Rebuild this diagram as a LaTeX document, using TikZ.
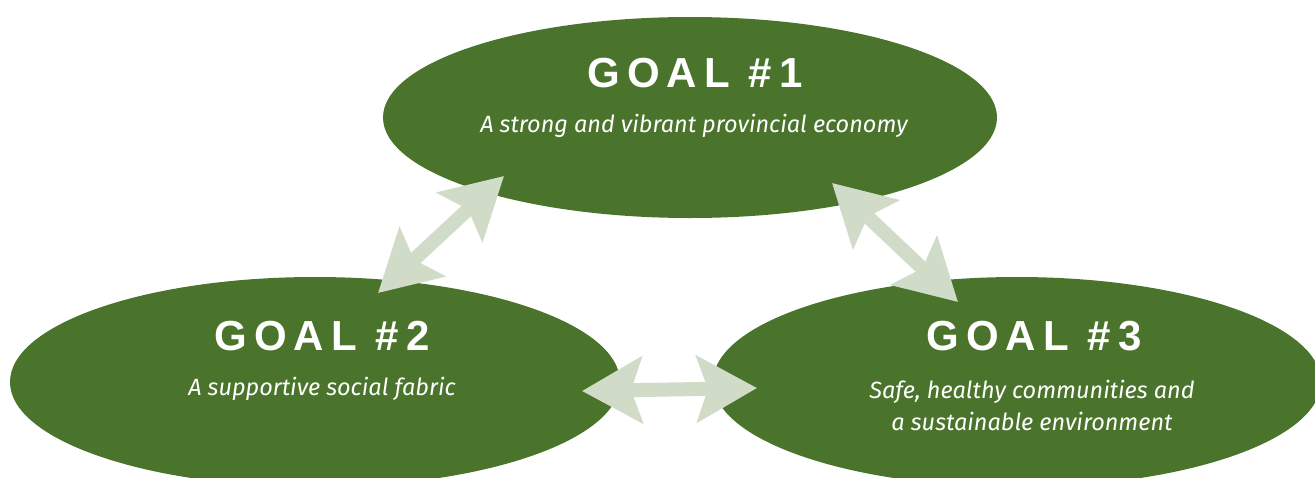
\documentclass[tikz,border=0pt]{standalone}
\usepackage{fontspec}
\usetikzlibrary{shapes.geometric,arrows.meta}
\newfontfamily\titlefont[LetterSpace=17]{Liberation Sans}
\newfontfamily\subfont{Fira Sans}
\definecolor{goalgreen}{RGB}{74,116,43}
\definecolor{arrowgray}{RGB}{208,219,200}
\tikzset{
  goal/.style={ellipse, fill=goalgreen, draw=none, inner sep=0pt},
  goaltitle/.style={text=white, font=\titlefont\bfseries\fontsize{42}{42}\selectfont, inner sep=0pt, anchor=base},
  goalsub/.style={text=white, font=\subfont\itshape\fontsize{23.5}{32}\selectfont, inner sep=0pt, align=center},
  link/.style={arrowgray, line width=14pt,
    {Stealth[length=60pt, width=66pt, inset=11pt]}-{Stealth[length=60pt, width=66pt, inset=11pt]}}
}
\begin{document}
\begin{tikzpicture}[x=1pt,y=-1pt]
\useasboundingbox (0,0) rectangle (1315,477);
\node[goal, minimum width=614pt, minimum height=201pt] (g1) at (690,117.5) {};
\node[goal, minimum width=610pt, minimum height=210pt] (g2) at (315,382) {};
\node[goal, minimum width=608pt, minimum height=210pt] (g3) at (1017,382) {};
\node[goaltitle] (t1) at (695,87) {GOAL \#1};
\node[goalsub] (s1) at (694,126) {A strong and vibrant provincial economy};
\node[goaltitle] (t2) at (322,350) {GOAL \#2};
\node[goalsub] (s2) at (322,389) {A supportive social fabric};
\node[goaltitle] (t3) at (1034,350) {GOAL \#3};
\node[goalsub] (s3) at (1032,405) {Safe, healthy communities and\\a sustainable environment};
\coordinate (a1s) at (378,293);
\coordinate (a1e) at (504,176);
\coordinate (a2s) at (832,183);
\coordinate (a2e) at (958,302);
\coordinate (a3s) at (582,391);
\coordinate (a3e) at (757,388);
\draw[link] (a1s) -- (a1e);
\draw[link] (a2s) -- (a2e);
\draw[link] (a3s) -- (a3e);
\end{tikzpicture}
\end{document}
